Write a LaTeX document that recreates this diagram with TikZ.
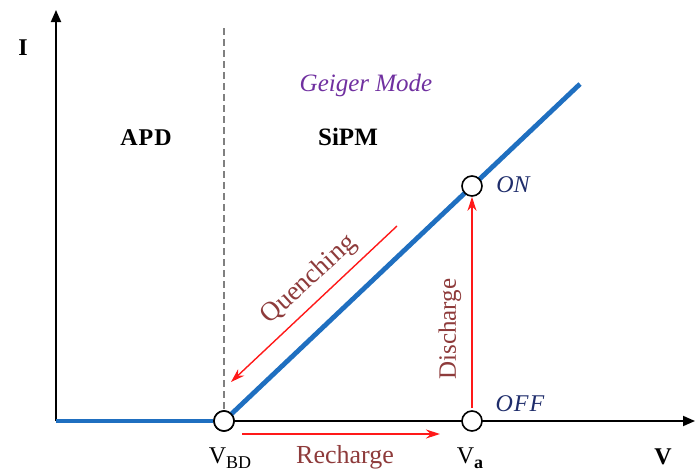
\documentclass[tikz,border=0pt]{standalone}
\usepackage{fontspec}
\setmainfont{Liberation Serif}
\usetikzlibrary{arrows.meta}
\definecolor{curveblue}{HTML}{1F6FC0}
\definecolor{lblred}{HTML}{8E3B3B}
\definecolor{navy}{HTML}{1F2D6B}
\definecolor{geiger}{HTML}{7030A0}
\newcommand{\fs}[1]{\fontsize{#1}{#1}\selectfont}
\tikzset{
  axis/.style={draw=black, line width=1.8pt, -{Triangle[length=12pt,width=10pt]}},
  curve/.style={draw=curveblue, line width=4.8pt},
  redarrow/.style={draw=red!90!white, line width=1.4pt, -{Stealth[length=14pt,width=9pt]}},
  statept/.style={circle, draw=black, line width=1.6pt, fill=white, minimum size=20pt, inner sep=0pt},
  lbl/.style={inner sep=0pt, font=\fs{24}},
  redlbl/.style={lbl, text=lblred, font=\fs{25}},
}
\begin{document}
\begin{tikzpicture}[x=1pt,y=-1pt]
\useasboundingbox (0,0) rectangle (696,471);
% coordinates
\coordinate (orig) at (56,421);
\coordinate (ytip) at (56,10);
\coordinate (xtip) at (695,421);
\coordinate (cend) at (580,84);
\coordinate (dtop) at (224,28);
\coordinate (dischs) at (472,408);
\coordinate (rechs) at (242,434);
\coordinate (reche) at (440,434);
\coordinate (quens) at (397,226);
\coordinate (quene) at (231,382);
% axes
\draw[axis] (orig) -- (ytip);
\draw[axis] (orig) -- (xtip);
% dashed breakdown line
\draw[gray, line width=1.2pt, dash pattern=on 7pt off 4pt] (dtop) -- (224,411);
% nodes (points)
\node[statept] (vbd) at (224,421) {};
% curve
\draw[curve] (orig) -- (vbd.west);
\draw[curve] (vbd.center) -- (cend);
\node[statept] (vbd2) at (224,421) {};
\node[statept] (on) at (472,186) {};
\node[statept] (va) at (472,421) {};
% red arrows
\draw[redarrow] (dischs) -- (on.south);
\draw[redarrow] (rechs) -- (reche);
\draw[redarrow] (quens) -- (quene);
% labels
\node[lbl, font=\fs{24}\bfseries] (ilbl) at (23,48) {I};
\node[lbl, font=\fs{24}\bfseries] (vlbl) at (663,457) {V};
\node[lbl, font=\fs{24}\bfseries] (apd) at (146,138) {A\kern1pt P\kern1pt D};
\node[lbl, font=\fs{25}\bfseries] (sipm) at (348,137) {SiPM};
\node[lbl, text=geiger, font=\fs{25}\itshape] (gm) at (366,85) {Geiger Mode};
\node[lbl, text=navy, font=\fs{24}\itshape] (onl) at (513,185) {ON};
\node[lbl, text=navy, font=\fs{24}\itshape] (offl) at (520,404) {O\kern1pt F\kern1pt F};
\node[lbl, anchor=base] (vbdl) at (230,463) {V\raisebox{-5pt}{\fs{18}BD}};
\node[lbl, anchor=base] (val) at (470,463) {V\raisebox{-5pt}{\fs{18}\bfseries a}};
\node[redlbl, font=\fs{26}] (rech) at (345,457) {Recharge};
\node[redlbl, rotate=90] (disch) at (450,329) {Discharge};
\node[redlbl, font=\fs{27}, rotate=42.5] (quen) at (309,280) {Quenching};
\end{tikzpicture}
\end{document}
